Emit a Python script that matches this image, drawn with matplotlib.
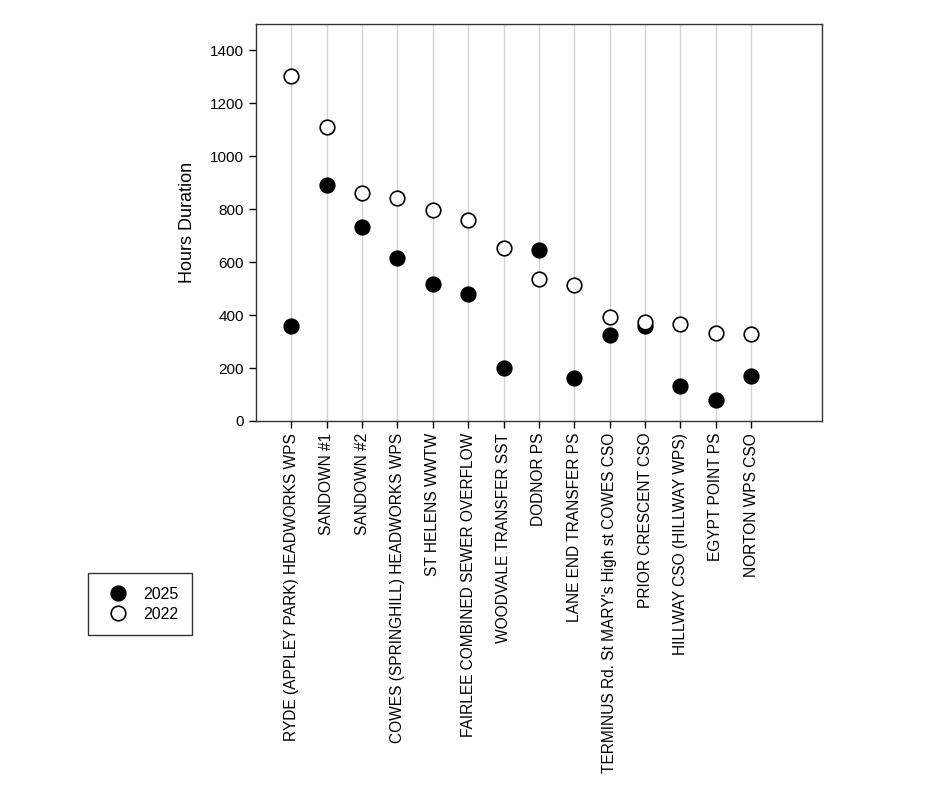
import matplotlib
matplotlib.use("Agg")
import matplotlib.pyplot as plt
import numpy as np

plt.rcParams['font.family'] = ['Liberation Sans', 'DejaVu Sans']

categories = [
    "RYDE (APPLEY PARK) HEADWORKS WPS",
    "SANDOWN #1",
    "SANDOWN #2",
    "COWES (SPRINGHILL) HEADWORKS WPS",
    "ST HELENS WWTW",
    "FAIRLEE COMBINED SEWER OVERFLOW",
    "WOODVALE TRANSFER SST",
    "DODNOR PS",
    "LANE END TRANSFER PS",
    "TERMINUS Rd. St MARY's High st COWES CSO",
    "PRIOR CRESCENT CSO",
    "HILLWAY CSO (HILLWAY WPS)",
    "EGYPT POINT PS",
    "NORTON WPS CSO",
]
values_2025 = [360, 890, 732, 616, 517, 480, 202, 646, 164, 324, 360, 132, 79, 170]
values_2022 = [1305, 1111, 861, 844, 796, 759, 654, 536, 515, 394, 373, 368, 333, 328]
yticks = [0, 200, 400, 600, 800, 1000, 1200, 1400]

fig = plt.figure(figsize=(9.45, 7.97), dpi=100)
ax = fig.add_axes([0.2709, 0.4718, 0.5989, 0.4981])

x = np.arange(1, len(categories) + 1)
for xi in x:
    ax.axvline(xi, color='#d3d3d3', lw=1.0, zorder=0)

ms = 10.5
h1, = ax.plot(x, values_2025, 'o', ms=ms, mfc='black', mec='black', mew=1.2, zorder=3, label='2025')
h2, = ax.plot(x, values_2022, 'o', ms=ms, mfc='white', mec='black', mew=1.2, zorder=4, label='2022')

ax.set_xlim(0, 16)
ax.set_ylim(0, 1500)
ax.set_xticks(x)
ax.set_xticklabels(categories, rotation=90, fontsize=11.2)
ax.set_yticks(yticks)
ax.set_yticklabels([str(v) for v in yticks], fontsize=11)
ax.tick_params(direction='out', length=5, width=1, colors='black')
ax.set_ylabel("Hours Duration", fontsize=13, labelpad=10)
for s in ax.spines.values():
    s.set_linewidth(1.0)
    s.set_color('#333333')

leg = fig.legend(handles=[h1, h2], loc='upper left',
                 bbox_to_anchor=(88/945, 1-573/797), fontsize=11.5,
                 frameon=True, fancybox=False, edgecolor='black',
                 handlelength=2.0, handletextpad=0.6, borderpad=0.85,
                 labelspacing=0.32, borderaxespad=0)
leg.get_frame().set_linewidth(1.0)

fig.savefig("out.png", dpi=100)
